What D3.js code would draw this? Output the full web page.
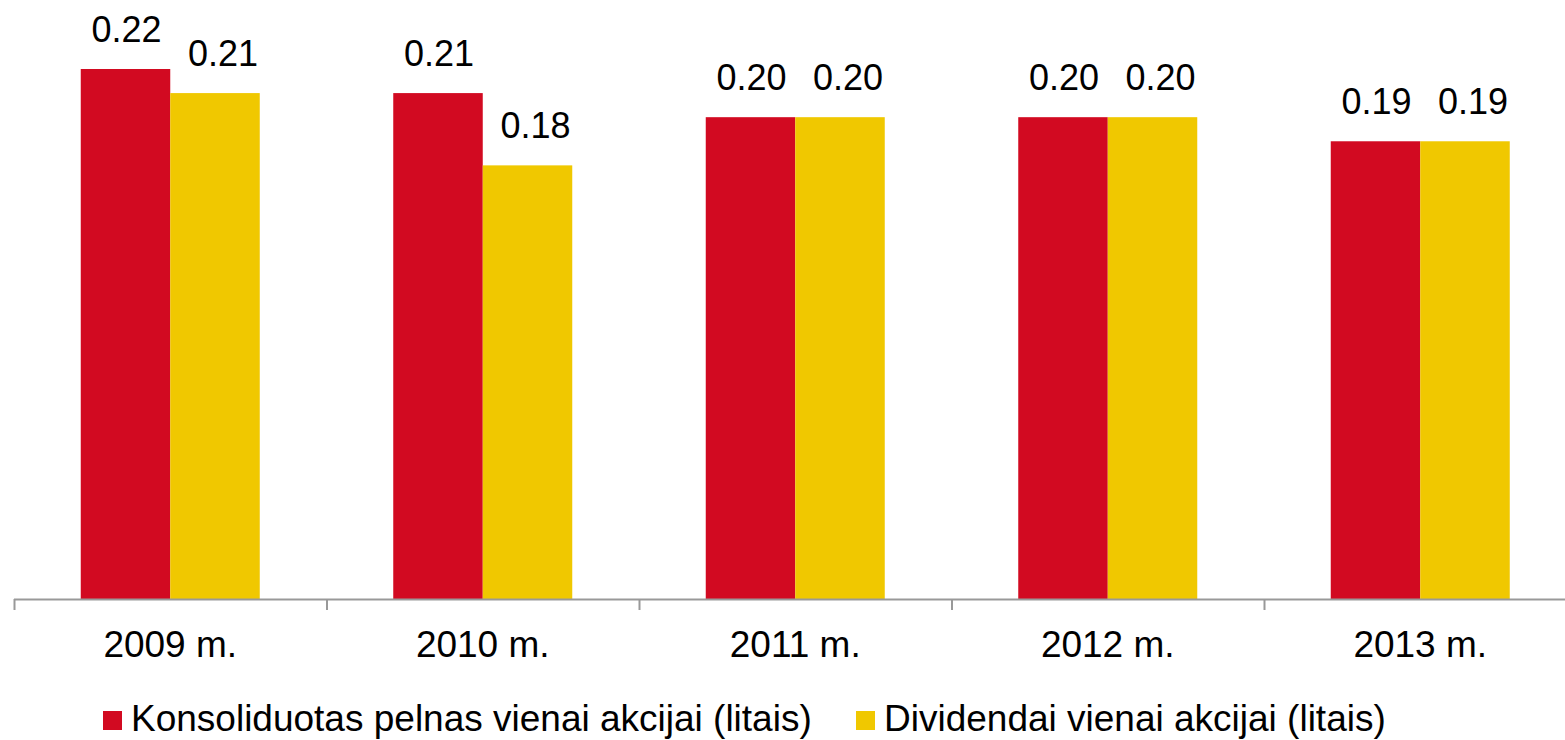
<!DOCTYPE html>
<html>
<head>
<meta charset="utf-8">
<script src="https://cdn.jsdelivr.net/npm/d3@7"></script>
<style>
  body { margin: 0; background: #fff; }
  svg { display: block; font-family: Arial, "Liberation Sans", sans-serif; }
</style>
</head>
<body>
<div class="chart"></div>
<script>
// data
const years = ["2009 m.", "2010 m.", "2011 m.", "2012 m.", "2013 m."]
const seriesNames = ["Konsoliduotas pelnas vienai akcijai (litais)", "Dividendai vienai akcijai (litais)"]
const pelnas = [0.22, 0.21, 0.20, 0.20, 0.19]
const dividendai = [0.21, 0.18, 0.20, 0.20, 0.19]
const colors = ["#d20a21", "#f0c800"]

const W = 1565, H = 740
const baseY = 599

const svg = d3.select(".chart")
  .append("svg")
  .attr("width", W)
  .attr("height", H)

// outer scale: one band per year, bands touch each other
const x0 = d3.scaleBand()
  .domain(years)
  .range([14, 14 + 5 * 312.5])
  .padding(0)

const gap = x0.bandwidth() * 0.2136
const x1 = d3.scaleBand()
  .domain([0, 1])
  .range([gap, x0.bandwidth() - gap])
  .padding(0)

const y = d3.scaleLinear()
  .domain([0, 0.22])
  .range([baseY, 69])

const rows = years.map((yr, i) => ({ yr: yr, vals: [pelnas[i], dividendai[i]] }))

const groups = svg.selectAll("g.year")
  .data(rows)
  .enter().append("g")
  .attr("class", "year")
  .attr("transform", d => `translate(${x0(d.yr)},0)`)

groups.selectAll("rect")
  .data(d => d.vals.map((v, k) => ({ v: v, k: k })))
  .enter().append("rect")
  .attr("x", d => x1(d.k))
  .attr("width", x1.bandwidth())
  .attr("y", d => y(d.v))
  .attr("height", d => y(0) - y(d.v))
  .attr("fill", d => colors[d.k])

// value labels (the second series' labels sit a bit right of centre in the original)
groups.selectAll("text.val")
  .data(d => d.vals.map((v, k) => ({ v: v, k: k })))
  .enter().append("text")
  .attr("class", "val")
  .attr("x", d => x1(d.k) + x1.bandwidth() / 2 + (d.k ? 8 : 1))
  .attr("y", d => y(d.v) - 27)
  .attr("text-anchor", "middle")
  .attr("font-size", 36)
  .attr("fill", "#000")
  .text(d => d3.format(".2f")(d.v))

// x axis: line with ticks at band edges
const axis = svg.append("g")
axis.append("line")
  .attr("x1", x0.range()[0]).attr("x2", x0.range()[1])
  .attr("y1", baseY + 0.5).attr("y2", baseY + 0.5)
  .attr("stroke", "#999").attr("stroke-width", 2)

const edges = years.map(d => x0(d)).concat([x0.range()[1]])
axis.selectAll("line.tick")
  .data(edges)
  .enter().append("line")
  .attr("class", "tick")
  .attr("x1", d => d + 0.5).attr("x2", d => d + 0.5)
  .attr("y1", baseY).attr("y2", baseY + 11)
  .attr("stroke", "#999").attr("stroke-width", 2)

axis.selectAll("text")
  .data(years)
  .enter().append("text")
  .attr("x", d => x0(d) + x0.bandwidth() / 2)
  .attr("y", 657)
  .attr("text-anchor", "middle")
  .attr("font-size", 37)
  .attr("fill", "#000")
  .text(d => d)

// legend
const legendX = [103, 856]
const legend = svg.selectAll("g.legend")
  .data(seriesNames)
  .enter().append("g")
  .attr("class", "legend")
  .attr("transform", (d, i) => `translate(${legendX[i]},711)`)

legend.append("rect")
  .attr("width", 19).attr("height", 19)
  .attr("fill", (d, i) => colors[i])

legend.append("text")
  .attr("x", 28)
  .attr("y", 20)
  .attr("font-size", 37)
  .attr("fill", "#000")
  .text(d => d)
</script>
</body>
</html>
